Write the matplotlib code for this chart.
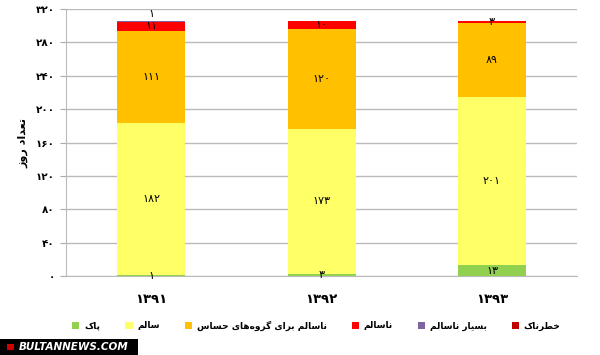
import matplotlib
matplotlib.use('Agg')
import matplotlib.pyplot as plt
from matplotlib.patches import Rectangle
import numpy as np

plt.rcParams['font.family'] = ['DejaVu Sans']

# data (days per air-quality class)
years = ['۱۳۹۱', '۱۳۹۲', '۱۳۹۳']
clean = [1, 3, 13]
healthy = [182, 173, 201]
sensitive = [111, 120, 89]
unhealthy = [11, 10, 3]
very_unhealthy = [1, 0, 0]
hazardous = [0, 0, 0]

# Persian labels, pre-shaped (presentation forms, visual order)
names = [
    '\uFB8E\uFE8E\uFB58',                                   # پاک
    '\uFEE2\uFEDF\uFE8E\uFEB3',                             # سالم
    '\uFEB1\uFE8E\uFEB4\uFEA3 \uFBFC\uFE8E\uFEEB\uFEE9\uFEED\uFEAE\uFB94 '
    '\uFBFC\uFE8D\uFEAE\uFE91 \uFEE2\uFEDF\uFE8E\uFEB3\uFE8E\uFEE7',  # ناسالم برای گروه‌های حساس
    '\uFEE2\uFEDF\uFE8E\uFEB3\uFE8E\uFEE7',                 # ناسالم
    '\uFEE2\uFEDF\uFE8E\uFEB3\uFE8E\uFEE7 \uFEAD\uFE8E\uFBFF\uFEB4\uFE91',  # بسیار ناسالم
    '\uFB8E\uFE8E\uFEE7\uFEAE\uFEC4\uFEA7',                 # خطرناک
]
ylabel = '\uFEAF\uFEED\uFEAD \uFEA9\uFE8D\uFEAA\uFECC\uFE97'  # تعداد روز
colors = ['#92D050', '#FFFF66', '#FFC000', '#FF0000', '#8064A2', '#C00000']

fa_digits = str.maketrans('0123456789', '۰۱۲۳۴۵۶۷۸۹')
def fa(n):
    return str(n).translate(fa_digits)

series = [clean, healthy, sensitive, unhealthy, very_unhealthy, hazardous]

fig = plt.figure(figsize=(6, 3.55), dpi=100)
ax = fig.add_axes([0.11, 0.2225, 0.852, 0.752])

x = np.arange(len(years))
bottom = np.zeros(len(years))
for vals, name, c in zip(series, names, colors):
    vals = np.array(vals, dtype=float)
    ax.bar(x, vals, 0.4, bottom=bottom, color=c, label=name, zorder=3)
    for i, v in enumerate(vals):
        if v > 0:
            yc = bottom[i] + v / 2
            if c == '#8064A2':
                yc = bottom[i] + v + 8
            ax.text(x[i], yc, fa(int(v)), ha='center', va='center',
                    fontsize=8, color='black', zorder=4)
    bottom += vals

ax.set_xlim(-0.5, 2.5)
ax.set_ylim(0, 320)
ax.set_yticks(np.arange(0, 321, 40))
ax.set_yticklabels([fa(t) for t in range(0, 321, 40)], fontsize=7.5, fontweight='bold')
ax.set_xticks(x)
ax.set_xticklabels(years, fontsize=9.5, fontweight='bold')
ax.tick_params(axis='x', length=0, pad=12)
ax.tick_params(axis='y', length=4, color='#AAAAAA', pad=4)
ax.grid(axis='y', color='#BBBBBB', linewidth=1, zorder=0)
for s in ['top', 'right']:
    ax.spines[s].set_visible(False)
ax.spines['left'].set_color('#BBBBBB')
ax.spines['bottom'].set_color('#BBBBBB')
ax.set_ylabel(ylabel, fontsize=8, fontweight='bold', labelpad=5)

ax.legend(loc='upper center', bbox_to_anchor=(0.49, -0.135), ncol=6, frameon=False,
          handlelength=0.8, handleheight=0.8, columnspacing=2.8,
          handletextpad=0.5, prop={'size': 6.5, 'weight': 'bold'})

# watermark
fig.patches.append(Rectangle((0, 0), 0.23, 0.045, transform=fig.transFigure,
                             facecolor='black', edgecolor='none', zorder=4))
fig.patches.append(Rectangle((0.012, 0.013), 0.011, 0.019, transform=fig.transFigure,
                             facecolor='#D00000', edgecolor='none', zorder=5))
fig.text(0.032, 0.022, 'BULTANNEWS.COM', fontsize=7.5, fontweight='bold',
         fontstyle='italic', color='white', va='center', ha='left', zorder=6)

fig.savefig('out.png', dpi=100)
